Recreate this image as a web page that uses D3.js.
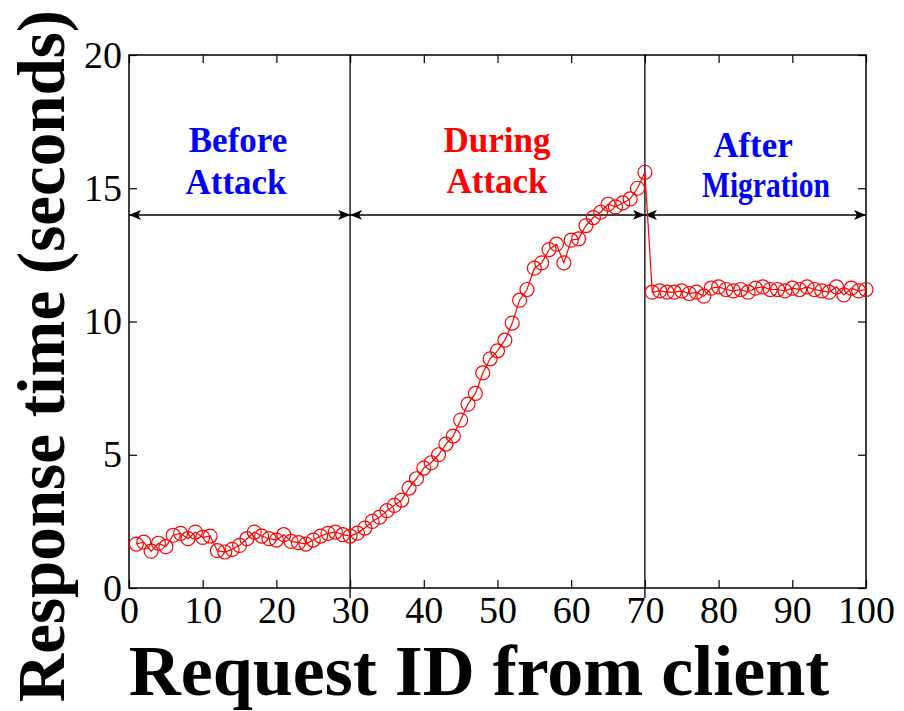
<!DOCTYPE html>
<html>
<head>
<meta charset="utf-8">
<script src="https://cdn.jsdelivr.net/npm/d3@7/dist/d3.min.js"></script>
<style>
  html, body { margin: 0; padding: 0; background: #fff; }
  svg { display: block; }
  text { font-family: "Liberation Serif", "Times New Roman", serif; }
</style>
</head>
<body>
<svg id="chart" width="904" height="711"></svg>
<script>
// Response time per request, in seconds, for request IDs 1..100
const requestIds = d3.range(1, 101);
const beforeAttack = [1.65, 1.72, 1.38, 1.68, 1.55, 1.98, 2.05, 1.85, 2.1, 1.9,
                      1.95, 1.4, 1.35, 1.45, 1.6, 1.85, 2.1, 1.95, 1.85, 1.8,
                      2.0, 1.75, 1.7, 1.65, 1.8, 1.95, 2.05, 2.1, 2.0, 1.95];
const duringAttack = [2.06, 2.25, 2.5, 2.66, 2.9, 3.1, 3.3, 3.75, 4.1, 4.5,
                      4.7, 5.0, 5.4, 5.7, 6.3, 6.9, 7.3, 8.07, 8.6, 8.9,
                      9.3, 9.94, 10.8, 11.2, 12.0, 12.2, 12.7, 12.9, 12.2, 13.05,
                      13.1, 13.6, 13.9, 14.1, 14.4, 14.3, 14.45, 14.6, 15.0, 15.6];
const afterMigration = [11.1, 11.15, 11.1, 11.1, 11.15, 11.05, 11.1, 10.95, 11.25, 11.3,
                        11.2, 11.15, 11.2, 11.1, 11.25, 11.3, 11.2, 11.2, 11.15, 11.25,
                        11.2, 11.3, 11.2, 11.15, 11.1, 11.3, 11.0, 11.25, 11.15, 11.2];
const responseTime = beforeAttack.concat(duringAttack, afterMigration);

const xTicks = [0, 10, 20, 30, 40, 50, 60, 70, 80, 90, 100];
const yTicks = [0, 5, 10, 15, 20];
const phaseBounds = [0, 30, 70, 100];
const phaseArrowLevel = 14;
const phases = [
  { lines: ["Before", "Attack"], from: 0, to: 30, color: "#0000ff" },
  { lines: ["During", "Attack"], from: 30, to: 70, color: "#ff0000" },
  { lines: ["After", "Migration"], from: 70, to: 100, color: "#0000ff" }
];

const svg = d3.select("#chart");
const plotLeft = 129, plotRight = 866, plotTop = 55, plotBottom = 588;

const x = d3.scaleLinear().domain([0, 100]).range([plotLeft, plotRight]);
const y = d3.scaleLinear().domain([0, 20]).range([plotBottom, plotTop]);

// Axes with inward ticks on all four sides
const tickFont = "38px";
const gx = svg.append("g").attr("transform", `translate(0,${plotBottom})`)
  .call(d3.axisBottom(x).tickValues(xTicks).tickSizeInner(-8).tickSizeOuter(0).tickPadding(8));
const gy = svg.append("g").attr("transform", `translate(${plotLeft},0)`)
  .call(d3.axisLeft(y).tickValues(yTicks).tickSizeInner(-8).tickSizeOuter(0).tickPadding(7));
const gt = svg.append("g").attr("transform", `translate(0,${plotTop})`)
  .call(d3.axisTop(x).tickValues(xTicks).tickSizeInner(-8).tickSizeOuter(0).tickFormat(""));
const gr = svg.append("g").attr("transform", `translate(${plotRight},0)`)
  .call(d3.axisRight(y).tickValues(yTicks).tickSizeInner(-8).tickSizeOuter(0).tickFormat(""));

[gx, gy, gt, gr].forEach(g => {
  g.select(".domain").remove();
  g.selectAll(".tick line").attr("stroke", "#000").attr("stroke-width", 1.2);
  g.selectAll(".tick text")
    .attr("fill", "#000")
    .style("font-size", tickFont)
    .style("font-family", "'Liberation Serif', 'Times New Roman', serif");
});

// Plot frame
svg.append("rect")
  .attr("x", plotLeft).attr("y", plotTop)
  .attr("width", plotRight - plotLeft).attr("height", plotBottom - plotTop)
  .attr("fill", "none").attr("stroke", "#000").attr("stroke-width", 1.5);

// Phase boundaries
svg.selectAll("line.bound")
  .data(phaseBounds.slice(1, -1))
  .enter().append("line")
  .attr("class", "bound")
  .attr("x1", d => x(d)).attr("x2", d => x(d))
  .attr("y1", plotTop).attr("y2", plotBottom + 10)
  .attr("stroke", "#000").attr("stroke-width", 1.3);

// Double-headed arrows spanning each phase
const defs = svg.append("defs");
defs.append("marker")
  .attr("id", "arrowEnd")
  .attr("viewBox", "0 0 12 10").attr("refX", 12).attr("refY", 5)
  .attr("markerWidth", 12).attr("markerHeight", 10)
  .attr("markerUnits", "userSpaceOnUse")
  .attr("orient", "auto")
  .append("path").attr("d", "M0,0 L12,5 L0,10 L3,5 Z").attr("fill", "#000");
defs.append("marker")
  .attr("id", "arrowStart")
  .attr("viewBox", "0 0 12 10").attr("refX", 0).attr("refY", 5)
  .attr("markerWidth", 12).attr("markerHeight", 10)
  .attr("markerUnits", "userSpaceOnUse")
  .attr("orient", "auto")
  .append("path").attr("d", "M12,0 L0,5 L12,10 L9,5 Z").attr("fill", "#000");

svg.selectAll("line.span")
  .data(phases)
  .enter().append("line")
  .attr("class", "span")
  .attr("x1", d => x(d.from)).attr("x2", d => x(d.to))
  .attr("y1", y(phaseArrowLevel)).attr("y2", y(phaseArrowLevel))
  .attr("stroke", "#000").attr("stroke-width", 1.5)
  .attr("marker-start", "url(#arrowStart)")
  .attr("marker-end", "url(#arrowEnd)");

// Phase captions, two lines each, over their phase
const captionX = [[238, 236], [497, 497], [753, 766]];
const captionY = [[152, 194], [152, 193], [157, 197]];
phases.forEach((p, i) => {
  p.lines.forEach((t, j) => {
    const label = svg.append("text")
      .attr("x", captionX[i][j])
      .attr("y", captionY[i][j])
      .attr("text-anchor", "middle")
      .attr("fill", p.color)
      .style("font-size", "35px")
      .style("font-weight", "bold")
      .text(t);
    if (t === "Migration") {
      label.attr("textLength", 128).attr("lengthAdjust", "spacingAndGlyphs");
    }
  });
});

// Response time series
const points = requestIds.map((id, i) => ({ id, v: responseTime[i] }));
svg.append("path")
  .datum(points)
  .attr("fill", "none")
  .attr("stroke", "#ff0000")
  .attr("stroke-width", 1.2)
  .attr("d", d3.line().x(d => x(d.id)).y(d => y(d.v)));

svg.selectAll("circle.pt")
  .data(points)
  .enter().append("circle")
  .attr("class", "pt")
  .attr("cx", d => x(d.id)).attr("cy", d => y(d.v))
  .attr("r", 7)
  .attr("fill", "none")
  .attr("stroke", "#ff0000")
  .attr("stroke-width", 1.2);

// Axis titles
svg.append("text")
  .attr("x", 479).attr("y", 695)
  .attr("text-anchor", "middle")
  .attr("fill", "#000")
  .style("font-size", "72px")
  .style("font-weight", "bold")
  .text("Request ID from client");

svg.append("text")
  .attr("transform", "translate(64,356) rotate(-90)")
  .attr("text-anchor", "middle")
  .attr("fill", "#000")
  .style("font-size", "67px")
  .style("font-weight", "bold")
  .text("Response time (seconds)");
</script>
</body>
</html>
